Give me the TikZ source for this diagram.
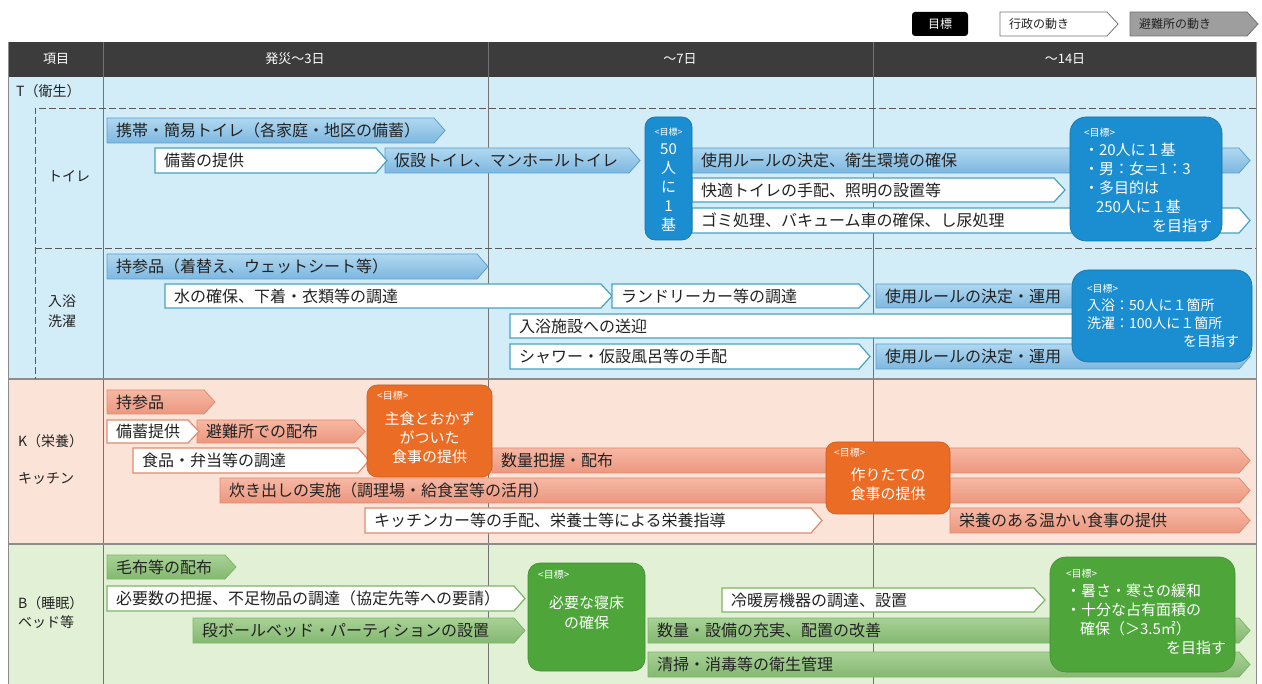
\documentclass[tikz,border=0pt]{standalone}
\usepackage{fontspec}
\setmainfont{Noto Sans CJK JP}
\definecolor{hdr}{HTML}{3C3C3C}
\definecolor{bgB}{HTML}{D2ECF8}
\definecolor{bgK}{HTML}{FCE3D8}
\definecolor{bgG}{HTML}{E2F1D6}
\definecolor{arBa}{HTML}{B0D8F0}
\definecolor{arBb}{HTML}{7DB7E0}
\definecolor{arBd}{HTML}{5C9FCC}
\definecolor{wBd}{HTML}{49A2C2}
\definecolor{goalB}{HTML}{1A8ED0}
\definecolor{arKa}{HTML}{F6B8A4}
\definecolor{arKb}{HTML}{EC977E}
\definecolor{arKd}{HTML}{E28A70}
\definecolor{goalK}{HTML}{EB6C24}
\definecolor{arGa}{HTML}{A8D196}
\definecolor{arGb}{HTML}{84B870}
\definecolor{arGd}{HTML}{7DB566}
\definecolor{goalG}{HTML}{4EA63B}
\definecolor{txt}{HTML}{222222}
\newcommand{\chev}[8]{%
  \path[#2] (#4,#6) -- ({#5-11},#6) -- (#5,{(#6+#7)/2}) -- ({#5-11},#7) -- (#4,#7) -- cycle;
  \node[#3] (#1) at ({#4+9},{(#6+#7)/2}) {#8};}
\begin{document}
\begin{tikzpicture}[x=1pt,y=-1pt,
  atext/.style={anchor=west,inner sep=0pt,font=\fontsize{16}{18}\selectfont,text=txt},
  ltext/.style={anchor=west,inner sep=0pt,font=\fontsize{12}{14}\selectfont,text=txt},
  htext/.style={text=white,font=\fontsize{13}{15}\selectfont,inner sep=0pt},
  rtext/.style={anchor=west,inner sep=0pt,font=\fontsize{14}{16}\selectfont,text=txt},
  gtext/.style={text=white,inner sep=0pt},
  glab/.style={text=white,inner sep=0pt,anchor=north west,font=\fontsize{10}{11}\selectfont},
  bArr/.style={top color=arBa,bottom color=arBb,draw=arBd,line width=0.8pt},
  wArrB/.style={fill=white,draw=wBd,line width=1.2pt},
  kArr/.style={top color=arKa,bottom color=arKb,draw=arKd,line width=0.8pt},
  wArrK/.style={fill=white,draw=arKd,line width=1.2pt},
  gArr/.style={top color=arGa,bottom color=arGb,draw=arGd,line width=0.8pt},
  wArrG/.style={fill=white,draw=arGd,line width=1.2pt},
  goalBst/.style={fill=goalB,draw=goalB!80!black,line width=0.6pt,rounded corners=10pt},
  goalKst/.style={fill=goalK,draw=goalK!85!black,line width=0.6pt,rounded corners=10pt},
  goalGst/.style={fill=goalG,draw=goalG!85!black,line width=0.6pt,rounded corners=12pt},
  gridline/.style={draw=black!55,line width=0.8pt},
  sepline/.style={draw=black!45,line width=1.6pt},
  dashline/.style={draw=black!65,line width=0.9pt,dash pattern=on 7pt off 3pt},
  legw/.style={fill=white,draw=black!55,line width=0.8pt},
  legg/.style={fill=black!38,draw=black!55,line width=0.8pt}
]
\useasboundingbox (0,0) rectangle (1262,684);
\fill[white] (0,0) rectangle (1262,684);

% ---------- legend ----------
\path[fill=black,rounded corners=3pt] (912,12) rectangle (968,36);
\node[htext,font=\fontsize{12}{14}\selectfont] (lg1) at (940,24) {目標};
\chev{lg2}{legw}{ltext}{1000}{1118}{12}{36}{行政の動き}
\chev{lg3}{legg}{ltext}{1130}{1258}{12}{36}{避難所の動き}

% ---------- backgrounds ----------
\fill[bgB] (8,77) rectangle (1256,379);
\fill[bgK] (8,379) rectangle (1256,544);
\fill[bgG] (8,544) rectangle (1256,684);
\fill[hdr] (8,42) rectangle (1256,77);
\draw[gridline] (103,42) -- (103,684);
\draw[gridline] (488,42) -- (488,684);
\draw[gridline] (873,42) -- (873,684);
\draw[draw=black!45,line width=0.8pt] (8,42) -- (8,684);
\draw[draw=black!45,line width=0.8pt] (1256,42) -- (1256,684);
\draw[sepline] (8,379) -- (1256,379);
\draw[sepline] (8,544) -- (1256,544);
\draw[dashline] (1256,108) -- (35,108) -- (35,379);
\draw[dashline] (35,248) -- (1256,248);

% ---------- header ----------
\node[htext] (h0) at (56,59) {項目};
\node[htext] (h1) at (295,59) {発災～3日};
\node[htext] (h2) at (680,59) {～7日};
\node[htext] (h3) at (1065,59) {～14日};

% ---------- row labels ----------
\node[rtext] (lT) at (16,91) {T（衛生）};
\node[rtext] (lT1) at (48,176) {トイレ};
\node[rtext] (lT2) at (48,301) {入浴};
\node[rtext] (lT3) at (48,321) {洗濯};
\node[rtext] (lK) at (18,441) {K（栄養）};
\node[rtext] (lK1) at (18,478) {キッチン};
\node[rtext] (lB) at (18,603) {B（睡眠）};
\node[rtext] (lB1) at (18,622) {ベッド等};

% ---------- T : toilet ----------
\chev{t1}{bArr}{atext}{107}{445}{118}{143}{携帯・簡易トイレ（各家庭・地区の備蓄）}
\chev{t3}{bArr}{atext}{385}{640}{148}{173}{仮設トイレ、マンホールトイレ}
\chev{t2}{wArrB}{atext}{155}{387}{148}{173}{備蓄の提供}
\chev{t4}{bArr}{atext}{692}{1250}{148}{173}{使用ルールの決定、衛生環境の確保}
\chev{t5}{wArrB}{atext}{692}{1065}{178}{202}{快適トイレの手配、照明の設置等}
\chev{t6}{wArrB}{atext}{692}{1250}{208}{233}{ゴミ処理、バキューム車の確保、し尿処理}
\path[goalBst] (645,117) rectangle (692,240);
\node[gtext,align=center,font=\fontsize{15}{19}\selectfont] (gt1) at (668.5,180)
  {{\fontsize{9}{10}\selectfont <目標>}\\50\\人\\に\\1\\基};
\path[goalBst,rounded corners=16pt] (1070,117) rectangle (1222,241);
\node[gtext,align=left,text width=128pt,font=\fontsize{15}{19}\selectfont] (gt2) at (1148,180)
  {{\fontsize{10}{11}\selectfont <目標>}\\・20人に１基\\・男：女＝1：3\\・多目的は\\\hspace*{12pt}250人に１基\\\hfill を目指す};

% ---------- T : bath / laundry ----------
\chev{b1}{bArr}{atext}{107}{488}{254}{279}{持参品（着替え、ウェットシート等）}
\chev{b2}{wArrB}{atext}{165}{612}{284}{308}{水の確保、下着・衣類等の調達}
\chev{b3}{wArrB}{atext}{612}{870}{284}{308}{ランドリーカー等の調達}
\chev{b4}{bArr}{atext}{876}{1110}{284}{308}{使用ルールの決定・運用}
\chev{b5}{wArrB}{atext}{510}{1240}{314}{338}{入浴施設への送迎}
\chev{b6}{wArrB}{atext}{510}{870}{344}{369}{シャワー・仮設風呂等の手配}
\chev{b7}{bArr}{atext}{876}{1250}{344}{369}{使用ルールの決定・運用}
\path[goalBst,rounded corners=16pt] (1072,270) rectangle (1252,362);
\node[gtext,align=left,text width=152pt,font=\fontsize{14}{18}\selectfont] (gb1) at (1163,316)
  {{\fontsize{10}{11}\selectfont <目標>}\\入浴：50人に１箇所\\洗濯：100人に１箇所\\\hfill を目指す};

% ---------- K : kitchen ----------
\chev{k1}{kArr}{atext}{107}{215}{390}{414}{持参品}
\chev{k3}{kArr}{atext}{197}{365}{420}{443}{避難所での配布}
\chev{k2}{wArrK}{atext}{107}{199}{420}{443}{備蓄提供}
\chev{k5}{kArr}{atext}{492}{1250}{448}{473}{数量把握・配布}
\chev{k4}{wArrK}{atext}{133}{369}{448}{473}{食品・弁当等の調達}
\chev{k6}{kArr}{atext}{220}{1250}{478}{503}{炊き出しの実施（調理場・給食室等の活用）}
\chev{k7}{wArrK}{atext}{365}{822}{508}{533}{キッチンカー等の手配、栄養士等による栄養指導}
\chev{k8}{kArr}{atext}{950}{1250}{508}{533}{栄養のある温かい食事の提供}
\path[goalKst] (367,385) rectangle (492,477);
\node[glab] (gk1l) at (377,391) {<目標>};
\node[gtext,align=center,font=\fontsize{15}{19}\selectfont] (gk1) at (429.5,438)
  {主食とおかず\\がついた\\食事の提供};
\path[goalKst] (826,442) rectangle (950,514);
\node[glab] (gk2l) at (834,448) {<目標>};
\node[gtext,align=center,font=\fontsize{15}{19}\selectfont] (gk2) at (888,484)
  {作りたての\\食事の提供};

% ---------- B : bed ----------
\chev{s1}{gArr}{atext}{107}{236}{555}{579}{毛布等の配布}
\chev{s2}{wArrG}{atext}{107}{525}{586}{611}{必要数の把握、不足物品の調達（協定先等への要請）}
\chev{s3}{gArr}{atext}{193}{525}{618}{643}{段ボールベッド・パーティションの設置}
\chev{s4}{wArrG}{atext}{722}{1045}{588}{612}{冷暖房機器の調達、設置}
\chev{s5}{gArr}{atext}{648}{1250}{618}{643}{数量・設備の充実、配置の改善}
\chev{s6}{gArr}{atext}{648}{1250}{652}{677}{清掃・消毒等の衛生管理}
\path[goalGst] (528,563) rectangle (645,671);
\node[glab] (gs1l) at (538,570) {<目標>};
\node[gtext,align=center,font=\fontsize{15}{20}\selectfont] (gs1) at (586.5,613)
  {必要な寝床\\の確保};
\path[goalGst,rounded corners=16pt] (1050,557) rectangle (1235,672);
\node[gtext,align=left,text width=160pt,font=\fontsize{15}{19}\selectfont] (gs2) at (1146,612)
  {{\fontsize{10}{11}\selectfont <目標>}\\・暑さ・寒さの緩和\\・十分な占有面積の\\\hspace*{14pt}確保（＞3.5㎡）\\\hfill を目指す};
\end{tikzpicture}
\end{document}
